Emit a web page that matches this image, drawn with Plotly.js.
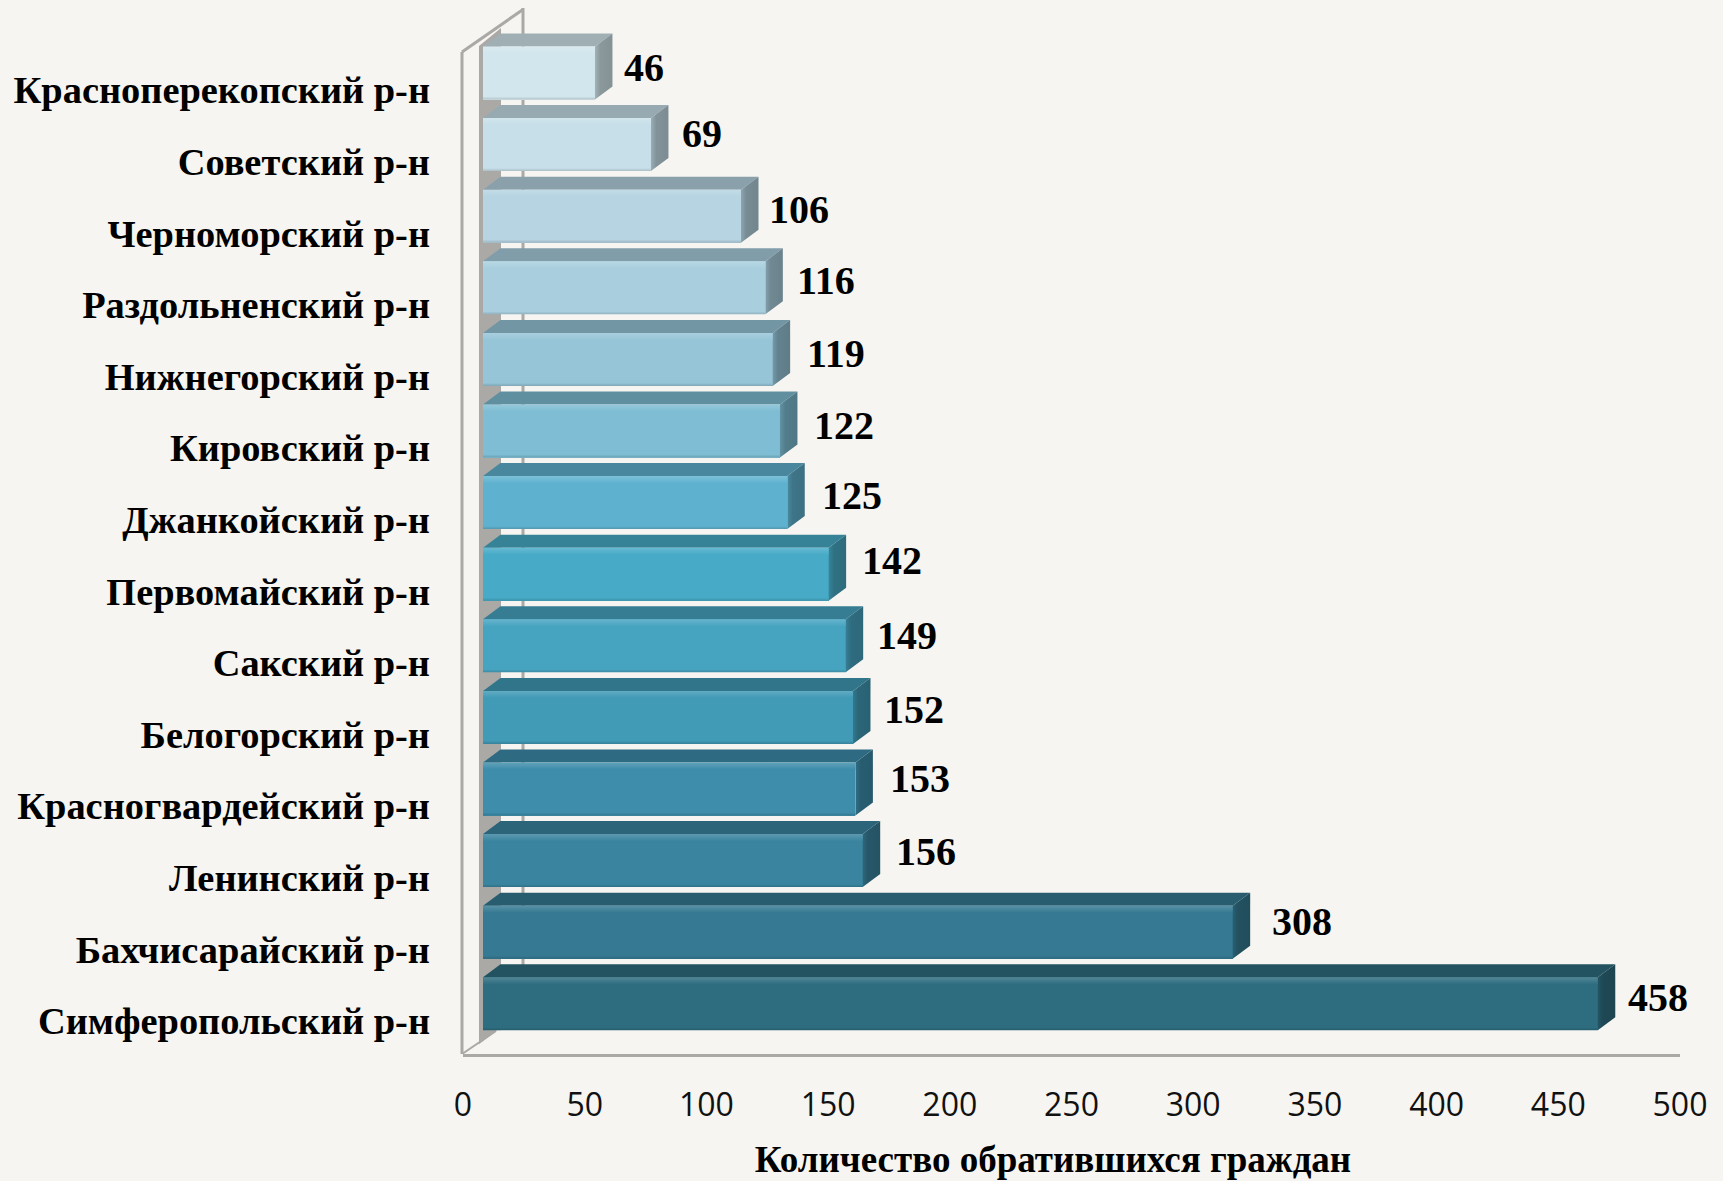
<!DOCTYPE html>
<html>
<head>
<meta charset="utf-8">
<script src="https://cdn.plot.ly/plotly-3.0.1.min.js"></script>
<style>html,body{margin:0;padding:0;background:#f6f5f1;overflow:hidden}</style>
</head>
<body>
<div id="chart" style="width:1723px;height:1181px"></div>
<script>
const categories = ["Красноперекопский р-н","Советский р-н","Черноморский р-н","Раздольненский р-н","Нижнегорский р-н","Кировский р-н","Джанкойский р-н","Первомайский р-н","Сакский р-н","Белогорский р-н","Красногвардейский р-н","Ленинский р-н","Бахчисарайский р-н","Симферопольский р-н"];
const values = [46,69,106,116,119,122,125,142,149,152,153,156,308,458];
const xTicks = [0,50,100,150,200,250,300,350,400,450,500];
const axisTitle = "Количество обратившихся граждан";

const frontColors = ["#d2e6ed","#c7dfe9","#b6d4e2","#a9cfde","#96c5d8","#7ebdd3","#5fb2cf","#47abc7","#47a4c1","#419ab6","#3d8dab","#3a849f","#357a92","#2e6d80"];
const labelNudgeX = [49,51,58,61,63,64,65,63,61,61,65,63,69,60];
const labelNudgeY = [6,11,7,7,6,6,7,14,10,8,11,9,11,6];

const W = 1723, H = 1181, L = 463, R = 43, T = 8, B = 127;
const PITCH = 71.6;
const ux = 500 / (W - L - R), uy = 1 / PITCH;
const BASE = 20 * ux, DX = 17.5 * ux, DY = 13 * uy, HALF = 26.5 * uy;
const idx = categories.map((_, i) => i);
const yBottom = (H - B - 73) * uy, yTop = (T - 73) * uy;
const px = v => v / (W - L - R);

function shade(hex, f) {
  const n = parseInt(hex.slice(1), 16);
  const c = [n >> 16, (n >> 8) & 255, n & 255].map(v => Math.round(f >= 1 ? v + (255 - v) * (f - 1) : v * f));
  return `rgb(${c[0]},${c[1]},${c[2]})`;
}
function poly(xs, ys, color, grad) {
  const t = {type:'scatter', mode:'none', x:xs, y:ys, fill:'toself', hoverinfo:'skip', showlegend:false, fillcolor:color};
  if (grad) t.fillgradient = grad;
  return t;
}

const traces = [{
  type:'bar', orientation:'h', y:idx, x:values, base:values.map(() => BASE), width:2*HALF,
  marker:{color:frontColors, line:{width:0}}, hoverinfo:'skip', showlegend:false
}];
values.forEach((v, i) => {
  const x0 = BASE, x1 = BASE + v, t = i - HALF, b = i + HALF, c = frontColors[i];
  traces.push(poly([x0,x1,x1+DX,x0+DX,x0],[t,t,t-DY,t-DY,t], shade(c,0.76)));
  traces.push(poly([x1,x1+DX,x1+DX,x1,x1],[t,t-DY,b-DY,b,t], shade(c,0.66), {
    type:'horizontal', colorscale:[[0,shade(c,0.78)],[0.3,shade(c,0.66)],[1,shade(c,0.63)]]
  }));
  const h = 7 * uy, e = 3 * uy;
  traces.push(poly([x0,x1,x1,x0,x0],[t,t,t+h,t+h,t], shade(c,1.2), {
    type:'vertical', colorscale:[[0,c],[1,shade(c,1.18)]]
  }));
  traces.push(poly([x0,x1,x1,x0,x0],[b-e,b-e,b,b,b-e], shade(c,0.85), {
    type:'vertical', colorscale:[[0,shade(c,0.85)],[1,c]]
  }));
});

const wallColor = "#aaa9a6";
const wallLine = {color:wallColor, width:3};
const shapes = [
  {type:'line', layer:'below', xref:'paper', yref:'y', x0:px(60), x1:px(60), y0:yTop, y1:yBottom-24*uy, line:wallLine},
  {type:'line', layer:'below', xref:'paper', yref:'y', x0:px(-1), x1:px(-1), y0:(52-73)*uy, y1:yBottom, line:wallLine},
  {type:'line', layer:'below', xref:'paper', yref:'y', x0:px(-1), x1:px(60), y0:(52-73)*uy, y1:yTop+1.5*uy, line:wallLine},
  {type:'line', layer:'below', xref:'paper', yref:'y', x0:px(-1), x1:px(33), y0:yBottom, y1:yBottom-23*uy, line:{color:wallColor,width:2}},
  {type:'path', layer:'below', xref:'x', yref:'y', line:{width:0}, fillcolor:wallColor,
   path:`M ${16*ux} ${-27*uy} L ${38*ux} ${-45*uy} L ${38*ux} ${13+HALF} L ${34*ux} ${13+HALF} L ${16*ux} ${13+HALF+14*uy} Z`}
];

const annotations = values.map((v, i) => ({
  xref:'x', yref:'y', x:BASE+v, y:i, text:`<b>${v}</b>`, showarrow:false,
  xanchor:'center', yanchor:'middle', xshift:labelNudgeX[i], yshift:labelNudgeY[i],
  font:{family:'"Liberation Serif", serif', size:40, color:'#000'}
}));

const layout = {
  width:W, height:H, margin:{l:L, r:R, t:T, b:B, pad:0},
  paper_bgcolor:'#f6f5f1', plot_bgcolor:'#f6f5f1',
  showlegend:false, bargap:0, barmode:'overlay',
  xaxis:{range:[0,500], tickvals:xTicks, ticktext:xTicks.map(String), showgrid:false, zeroline:false,
    showline:true, linecolor:wallColor, linewidth:3, ticks:'', ticklabelstandoff:21,
    tickfont:{family:'"Open Sans", sans-serif', size:32, color:'#111'},
    title:{text:`<b>${axisTitle}&#160;&#160;&#160;&#160;</b>`, standoff:22, font:{family:'"Liberation Serif", serif', size:37, color:'#000'}}},
  yaxis:{range:[yBottom,yTop], tickmode:'array', tickvals:idx.map(i => i + 17*uy), ticktext:categories.map(c => `<b>${c}</b>`),
    showgrid:false, zeroline:false, showline:false, ticks:'', ticklabelstandoff:32,
    tickfont:{family:'"Liberation Serif", serif', size:38.4, color:'#000'}},
  shapes, annotations
};
Plotly.newPlot('chart', traces, layout, {displayModeBar:false, responsive:false});
</script>
</body>
</html>
